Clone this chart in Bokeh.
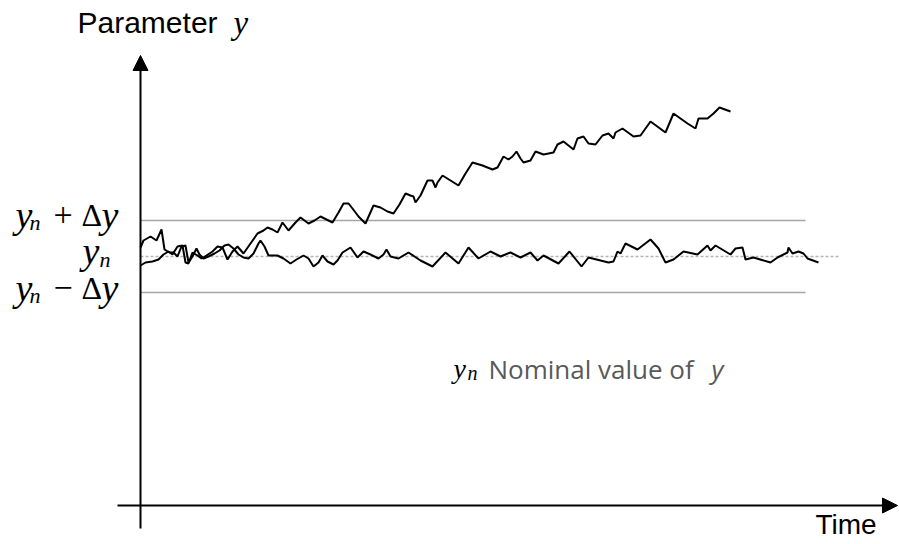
from bokeh.plotting import figure
from bokeh.models import Range1d, Arrow, NormalHead
from bokeh.core.properties import value
from bokeh.embed import file_html
from bokeh.resources import INLINE

# --- data (time units, deviation from nominal value) ---
nominal = 0
delta = 36

rise_t = [0, 5, 12, 18, 23, 28, 32, 37, 42, 45, 48, 52, 57, 61, 66, 72, 77, 82, 87, 92,
          97, 103, 110, 117, 123, 127, 132, 137, 142, 148, 155, 160, 168, 174, 180, 186,
          192, 198, 203, 208, 212, 218, 225, 233, 240, 247, 253, 259, 265, 270, 273, 275,
          280, 287, 292, 295, 297, 302, 310, 318, 325, 332, 342, 352, 357, 363, 368, 372,
          376, 380, 383, 390, 395, 403, 413, 417, 423, 428, 433, 437, 443, 448, 455, 462,
          468, 473, 475, 482, 493, 500, 510, 525, 533, 547, 555, 558, 567, 573, 579, 590]
rise_v = [-9, -6, -5, -3, 2, 5, 2, 10, 11, -6, -7, 4, 1, -2, 1, 5, 10, 9, -3, 5,
          10, 3, 13, 23, 26, 29, 27, 24, 34, 26, 34, 39, 33, 36, 40, 37,
          34, 44, 53, 53, 48, 40, 33, 51, 49, 45, 43, 52, 63, 61, 60, 54,
          61, 76, 76, 69, 74, 81, 76, 71, 83, 94, 91, 87, 89, 100, 97, 100,
          105, 98, 94, 96, 105, 102, 104, 112, 115, 111, 107, 118, 120, 113, 112, 121,
          123, 118, 124, 128, 120, 121, 135, 124, 143, 133, 128, 138, 138, 143, 149, 145]

stab_t = [0, 3, 10, 16, 21, 24, 29, 33, 37, 41, 45, 48, 52, 56, 59, 63, 68, 74, 79, 84,
          88, 93, 98, 103, 108, 113, 118, 120, 124, 128, 137, 143, 150, 156, 163, 168,
          173, 178, 182, 187, 193, 197, 202, 210, 217, 223, 230, 238, 243, 246, 250, 258,
          268, 280, 292, 305, 318, 328, 338, 350, 360, 370, 380, 390, 397, 403, 418, 429,
          441, 448, 460, 468, 473, 477, 480, 485, 497, 510, 518, 525, 533, 543, 557, 567,
          570, 575, 590, 595, 602, 605, 613, 630, 637, 647, 648, 652, 658, 663, 667, 678]
stab_v = [9, 16, 20, 16, 27, 7, 4, 4, 0, 10, 11, -6, 0, 8, 2, -2, 0, 3, 6, 11,
          12, 8, 2, -1, -2, 3, 13, 16, 10, 1, 1, -2, -7, -3, 1, -2,
          -10, -6, 1, -5, -8, -4, 4, 9, -1, 5, 2, -2, 2, 7, 0, -2,
          4, -4, -10, 4, -7, 9, -2, 5, 0, 4, -1, 4, -4, 1, -7, 5,
          -10, -1, -4, -6, -5, 5, 3, 13, 7, 17, 8, -6, -3, 5, 2, 11,
          6, 11, 2, 8, 9, -3, -1, -6, -1, 4, 9, 3, 5, 3, -2, -6]

band_end = 665
dotted_end = 698
x_axis_level = -249
y_axis_bottom = -272
y_axis_top = 201
x_axis_start = -23
x_axis_end = 757

p = figure(width=899, height=544, output_backend="svg", toolbar_location=None,
           x_range=Range1d(-140, 759), y_range=Range1d(-288, 256),
           min_border=0, min_border_left=0, min_border_right=0,
           min_border_top=0, min_border_bottom=0)
p.axis.visible = False
p.grid.visible = False
p.outline_line_color = None
p.background_fill_color = "white"
p.border_fill_color = "white"

grey = "#a6a6a6"
# reference lines
p.line([0, band_end], [nominal + delta] * 2, line_color=grey, line_width=1.5)
p.line([0, band_end], [nominal - delta] * 2, line_color=grey, line_width=1.5)
p.line([0, dotted_end], [nominal] * 2, line_color="#b4b4b4", line_width=1.3, line_dash="3 2")

# data
p.line(stab_t, stab_v, line_color="black", line_width=2)
p.line(rise_t, rise_v, line_color="black", line_width=2)

# axes with arrows
p.add_layout(Arrow(end=NormalHead(size=15, fill_color="black", line_color="black"),
                   x_start=0, y_start=y_axis_bottom, x_end=0, y_end=y_axis_top,
                   line_color="black", line_width=2))
p.add_layout(Arrow(end=NormalHead(size=15, fill_color="black", line_color="black"),
                   x_start=x_axis_start, y_start=x_axis_level, x_end=x_axis_end, y_end=x_axis_level,
                   line_color="black", line_width=2))

sans = value("Liberation Sans")
serif = value("Liberation Serif")

def txt(x, y, s, size, font=sans, style="normal", color="black"):
    p.text(x=[x], y=[y], text=[s], text_font=font, text_font_size=value(f"{size}px"),
           text_font_style=style, text_color=color, text_align="left",
           text_baseline="alphabetic")

# axis titles
txt(-63, 234, "Parameter", 30)
txt(93, 234, "y", 33, serif, "italic")
txt(675, -268, "Time", 28)

# left labels
def band_label(y0, sign):
    txt(-125, y0, "y", 38, serif, "italic")
    txt(-111, y0 - 8, "n", 22, serif, "italic")
    txt(-87, y0, sign, 34, serif)
    txt(-59, y0, "Δ", 32, serif)
    txt(-39, y0, "y", 38, serif, "italic")

band_label(42, "+")
band_label(-31, "−")
txt(-58, 6, "y", 38, serif, "italic")
txt(-41, -3, "n", 22, serif, "italic")

# legend note
txt(313, -112, "y", 28, serif, "italic")
txt(327, -116, "n", 20, serif, "italic")
txt(348, -112, "Nominal value of", 26, value("Open Sans"), "normal", "#595959")
txt(571, -112, "y", 26, value("Open Sans"), "italic", "#595959")

open("out.html", "w").write(file_html(p, INLINE))
